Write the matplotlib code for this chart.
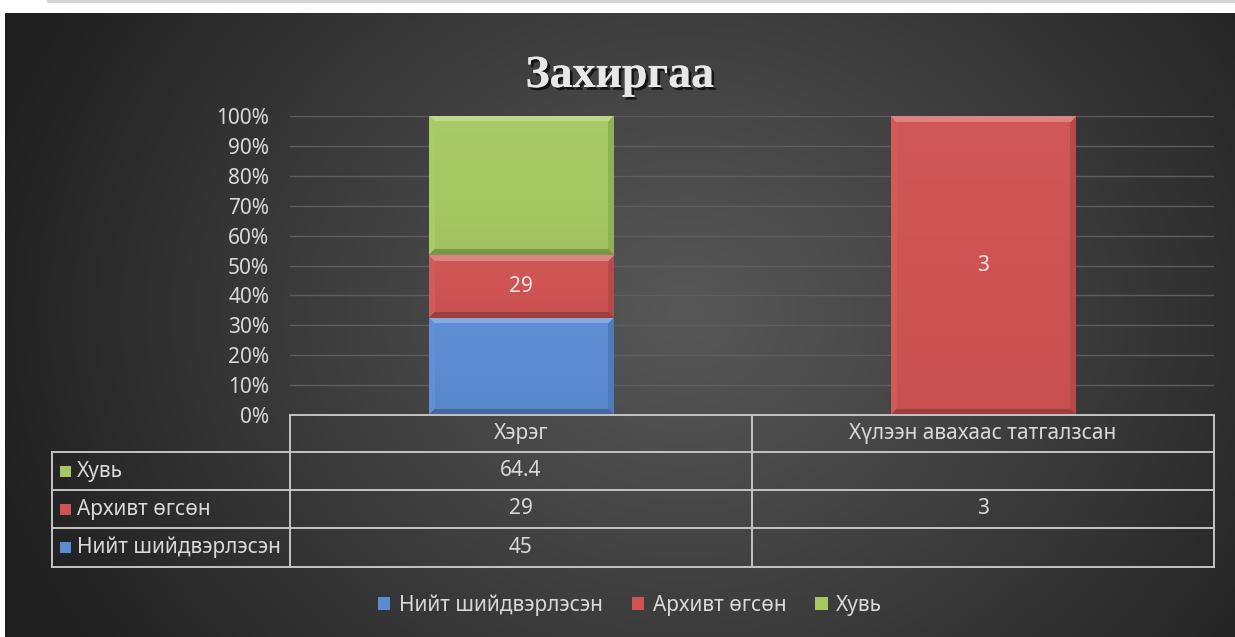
import numpy as np
import matplotlib
matplotlib.use("Agg")
import matplotlib.pyplot as plt
from matplotlib.patches import Patch, Rectangle
from matplotlib.lines import Line2D
from matplotlib import patheffects as pe
from matplotlib.colors import to_rgb

# ---------------- data ----------------
title = "Захиргаа"
categories = ["Хэрэг", "Хүлээн авахаас татгалзсан"]
series_names = ["Нийт шийдвэрлэсэн", "Архивт өгсөн", "Хувь"]
niit = [45, None]
arkhiv = [29, 3]
khuvi = [64.4, None]
y_ticks = [0, 10, 20, 30, 40, 50, 60, 70, 80, 90, 100]
series_colors = ["#5b8bd2", "#cf5353", "#a6c862"]
label_series = [False, True, False]

W, H = 1235, 637
plt.rcParams["font.family"] = ["Noto Sans", "DejaVu Sans"]
TXT = "#d9d9d9"
FS = 15

fig = plt.figure(figsize=(W / 100, H / 100), dpi=100)
fig.patch.set_facecolor("white")


def fx(x):
    return x / W


def fy(y):
    return 1 - y / H


# ---------------- background ----------------
bg = fig.add_axes([fx(5), 0, 1 - fx(5), fy(13)])
bg.set_axis_off()
yy, xx = np.mgrid[0:H - 13, 0:W - 5]
cx, cy = 680, 300
r = np.sqrt(((xx - cx) / 1.0) ** 2 + ((yy - cy) / 0.85) ** 2)
t = np.clip(r / 720, 0, 1) ** 1.1
c0 = np.array(to_rgb("#575757"))
c1 = np.array(to_rgb("#202020"))
img = c0[None, None, :] * (1 - t[..., None]) + c1[None, None, :] * t[..., None]
bg.imshow(img, aspect="auto", extent=[0, 1, 0, 1], origin="upper")
bg.set_xlim(0, 1)
bg.set_ylim(0, 1)
fig.add_artist(Line2D([fx(48), 1], [fy(1), fy(1)], color="#d0d0d0", lw=2))

# ---------------- main axes ----------------
ax_l, ax_r, ax_t, ax_b = 290, 1214, 116, 415
ax = fig.add_axes([fx(ax_l), fy(ax_b), fx(ax_r - ax_l), (ax_b - ax_t) / H])
ax.set_facecolor("none")
for s in ax.spines.values():
    s.set_visible(False)

vals = [niit, arkhiv, khuvi]
arr = np.array([[np.nan if v is None else v for v in s] for s in vals], dtype=float)
totals = np.nansum(arr, axis=0)
pct = np.nan_to_num(arr) / totals * 100

x = np.arange(len(categories))
bottom = np.zeros(len(categories))
bar_w = 0.40
containers = []
for i, name in enumerate(series_names):
    heights = pct[i]
    cont = ax.bar(x, heights, bar_w, bottom=bottom, color=series_colors[i],
                  edgecolor="none", zorder=3, label=name)
    containers.append(cont)
    bottom = bottom + heights

ax.set_xlim(-0.5, len(categories) - 0.5)
ax.set_ylim(0, 100)
ax.set_yticks(y_ticks)
ax.set_yticklabels([f"{v}%" for v in y_ticks])
ax.tick_params(axis="y", length=0, pad=15, labelsize=FS, labelcolor=TXT)
ax.set_xticks([])
ax.yaxis.grid(True, color="#5e5e5e", lw=1.0, zorder=0)
ax.set_axisbelow(True)

# bevel shading on bars
px_per_unit_y = (ax_b - ax_t) / 100.0
px_per_unit_x = (ax_r - ax_l) / len(categories)
for i, cont in enumerate(containers):
    base = np.array(to_rgb(series_colors[i]))
    for p in cont.patches:
        h = p.get_height()
        if h <= 0:
            continue
        ny = max(int(round(h * px_per_unit_y)), 2)
        nx = max(int(round(p.get_width() * px_per_unit_x)), 2)
        Y, X = np.mgrid[0:ny, 0:nx]
        dt, db, dl, dr = Y, ny - 1 - Y, X, nx - 1 - X
        dmin = np.minimum(np.minimum(dt, db), np.minimum(dl, dr))
        b = 6
        shade = np.zeros((ny, nx))
        shade += 0.06 * (1 - Y / ny) - 0.03
        edge = dmin < b
        top = edge & (dt == dmin)
        bot = edge & (db == dmin) & ~top
        lef = edge & (dl == dmin) & ~top & ~bot
        rig = edge & (dr == dmin) & ~top & ~bot & ~lef
        shade[top] = 0.28
        shade[bot] = -0.25
        shade[lef] = 0.05
        shade[rig] = -0.12
        col = np.where(shade[..., None] > 0,
                       base + (1 - base) * shade[..., None],
                       base * (1 + shade[..., None]))
        im = ax.imshow(np.clip(col, 0, 1), origin="upper", aspect="auto",
                       extent=[p.get_x(), p.get_x() + p.get_width(),
                               p.get_y(), p.get_y() + h],
                       zorder=4, interpolation="bilinear")
        im.set_clip_path(p)
ax.set_xlim(-0.5, len(categories) - 0.5)
ax.set_ylim(0, 100)

# data labels
for i, cont in enumerate(containers):
    if label_series[i]:
        labs = ["" if v is None else f"{v:g}" for v in vals[i]]
        ax.bar_label(cont, labels=labs, label_type="center", color="#e6e6e6",
                     fontsize=FS, zorder=6)
for t_ in ax.texts:
    t_.set_zorder(6)

# ---------------- title ----------------
fig.text(fx(620), fy(76), title, ha="center", va="center",
         fontsize=33, fontweight="bold", family=["Liberation Serif", "DejaVu Serif"],
         color="#e8e8e8",
         path_effects=[pe.withSimplePatchShadow(offset=(2, -2), shadow_rgbFace="black", alpha=0.7),
                       pe.Normal()])

# ---------------- data table ----------------
line_col = "#c4c4c4"
lw = 1.4
row_y = [415, 452, 490, 528, 567]
lab_l = 52
col_edges_px = [ax_l + (xe + 0.5) * px_per_unit_x for xe in np.arange(-0.5, len(categories), 1.0)]


def hline(y, x0, x1):
    fig.add_artist(Line2D([fx(x0), fx(x1)], [fy(y), fy(y)], color=line_col, lw=lw))


def vline(x_, y0, y1):
    fig.add_artist(Line2D([fx(x_), fx(x_)], [fy(y0), fy(y1)], color=line_col, lw=lw))


hline(row_y[0], ax_l, ax_r)
for y_ in row_y[1:]:
    hline(y_, lab_l, ax_r)
for xe in col_edges_px:
    vline(xe, row_y[0], row_y[-1])
vline(lab_l, row_y[1], row_y[-1])

# header
for j, cat in enumerate(categories):
    xc = (col_edges_px[j] + col_edges_px[j + 1]) / 2
    fig.text(fx(xc), fy((row_y[0] + row_y[1]) / 2), cat, ha="center", va="center",
             fontsize=FS, color=TXT)

# rows: reversed order (Хувь at top)
order = list(range(len(series_names)))[::-1]
for r_, si in enumerate(order):
    yc = (row_y[r_ + 1] + row_y[r_ + 2]) / 2
    fig.add_artist(Rectangle((fx(60), fy(yc + 5.5)), fx(11), 11 / H,
                             facecolor=series_colors[si], edgecolor="none"))
    fig.text(fx(77), fy(yc), series_names[si], ha="left", va="center",
             fontsize=FS, color=TXT)
    for j in range(len(categories)):
        v = vals[si][j]
        if v is None:
            continue
        xc = (col_edges_px[j] + col_edges_px[j + 1]) / 2
        fig.text(fx(xc), fy(yc), f"{v:g}", ha="center", va="center",
                 fontsize=FS, color=TXT)

# ---------------- legend ----------------
handles = [Patch(facecolor=c, edgecolor="none") for c in series_colors]
fig.legend(handles, series_names, loc="center", bbox_to_anchor=(fx(630), fy(605)),
           ncol=3, frameon=False, fontsize=FS, labelcolor=TXT,
           handlelength=0.6, handleheight=0.6, handletextpad=0.4, columnspacing=1.4)

fig.savefig("out.png", dpi=100, facecolor=fig.get_facecolor())
